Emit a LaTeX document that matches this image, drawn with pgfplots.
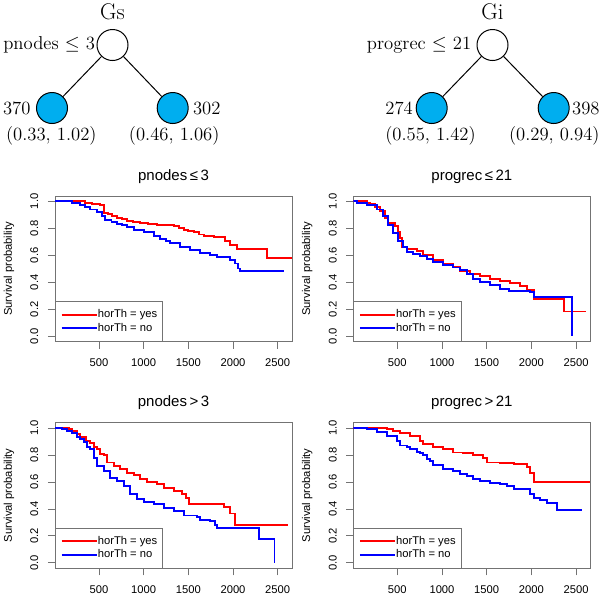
\documentclass[border=0pt]{standalone}
\usepackage{pgfplots}
\pgfplotsset{compat=1.18}
\usepackage{fontspec}
\newfontfamily\lsans{Liberation Sans}
\definecolor{leafblue}{RGB}{0,174,239}
\definecolor{kmred}{RGB}{255,0,0}
\definecolor{kmblue}{RGB}{0,0,255}

\newcommand\tickfont{\lsans\fontsize{8.4}{10}\selectfont}

\pgfplotsset{
  kmplot/.style={
    scale only axis, width=177.75pt, height=109.3pt,
    anchor=south west,
    xmin=8, xmax=2660, ymin=-0.04, ymax=1.04,
    xtick={500,1000,1500,2000,2500},
    ytick={0,0.2,0.4,0.6,0.8,1},
    scaled x ticks=false,
    tick pos=left, tick align=outside, major tick length=5.25pt,
    axis line style={black!55, line width=0.6pt},
    major tick style={black!55, line width=0.6pt},
    ticklabel style={font=\tickfont},
    /pgf/number format/assume math mode=true,
    xticklabel style={yshift=-4.2pt, /pgf/number format/1000 sep={}},
    yticklabel shift=3.75pt,
    yticklabel style={rotate=90, anchor=south,
      /pgf/number format/fixed, /pgf/number format/fixed zerofill,
      /pgf/number format/precision=1},
    ylabel={Survival probability},
    every axis y label/.style={at={(axis description cs:0,0.5)},
      xshift=-34.5pt, rotate=90, anchor=center, font=\tickfont},
    title style={font=\lsans\fontsize{11.25}{13}\selectfont,
      at={(0.5,1)}, anchor=center, yshift=8.7pt},
    legend style={at={(0,0)}, anchor=south west, draw=black!55,
      font=\tickfont, inner xsep=4pt, inner ysep=6.15pt,
      row sep=2.3pt, nodes={inner sep=0pt, text height=6pt, text depth=1.7pt}},
    legend cell align=left,
    legend image code/.code={\path (0pt,0pt) -- (26.5pt,0pt);
      \draw[##1] (3.5pt,0pt) -- (18.5pt,0pt);},
  },
  kmyes/.style={draw=kmred, line width=1.45pt, const plot, mark=none},
  kmno/.style={draw=kmblue, line width=1.45pt, const plot, mark=none},
}

\begin{document}
\begin{tikzpicture}
\path[use as bounding box] (0pt,0pt) rectangle (450pt,-445.5pt);

% ---- trees ----
\begin{scope}[x=0.75pt, y=-0.75pt, line width=0.75pt,
  nd/.style={circle, draw, minimum size=23.25pt, inner sep=0pt},
  lbl/.style={inner sep=0pt, font=\fontsize{14}{17}\selectfont}]
  \node[inner sep=0pt, font=\fontsize{17}{20}\selectfont] at (112.5,12) {Gs};
  \node[nd] (a) at (112.5,45) {};
  \node[nd, fill=leafblue] (b) at (52,108) {};
  \node[nd, fill=leafblue] (c) at (172.7,108) {};
  \draw (a) -- (b) (a) -- (c);
  \node[lbl, anchor=east] at (95.5,45) {pnodes $\leq$ 3};
  \node[lbl, anchor=east] at (31,108.5) {370};
  \node[lbl, anchor=west] at (192.5,108.5) {302};
  \node[lbl] at (51.3,136.2) {(0.33, 1.02)};
  \node[lbl] at (174.2,136.2) {(0.46, 1.06)};

  \node[inner sep=0pt, font=\fontsize{17}{20}\selectfont] at (492.4,12) {Gi};
  \node[nd] (d) at (492.5,45) {};
  \node[nd, fill=leafblue] (e) at (431.7,108) {};
  \node[nd, fill=leafblue] (f) at (553.7,108) {};
  \draw (d) -- (e) (d) -- (f);
  \node[lbl, anchor=east] at (471.7,45) {progrec $\leq$ 21};
  \node[lbl, anchor=east] at (413.3,108.5) {274};
  \node[lbl, anchor=west] at (571.7,108.5) {398};
  \node[lbl] at (430.5,136.2) {(0.55, 1.42)};
  \node[lbl] at (554.3,136.2) {(0.29, 0.94)};
\end{scope}

% ---- pnodes <= 3 ----
\begin{axis}[kmplot, at={(41.25pt,-256.3pt)}, title={pnodes\,≤\,3}]
\addplot[kmyes] coordinates {(8,1) (347,0.99) (422,0.98) (515,0.975) (552,0.913)
  (600,0.905) (650,0.895) (702,0.876) (760,0.868) (814,0.858) (880,0.848)
  (963,0.838) (1050,0.833) (1150,0.828) (1250,0.822) (1336,0.815) (1400,0.805)
  (1448,0.79) (1500,0.78) (1560,0.77) (1620,0.755) (1672,0.745) (1784,0.733)
  (1915,0.71) (1971,0.678) (2045,0.645) (2381,0.583) (2660,0.583)};
\addplot[kmno] coordinates {(8,1) (198,0.99) (250,0.985) (291,0.975) (340,0.96)
  (403,0.94) (478,0.92) (534,0.889) (571,0.86) (640,0.848) (702,0.835)
  (760,0.822) (814,0.81) (888,0.79) (1000,0.77) (1113,0.745) (1187,0.72)
  (1250,0.705) (1299,0.69) (1411,0.665) (1523,0.64) (1635,0.617) (1747,0.603)
  (1822,0.585) (1971,0.565) (2027,0.54) (2060,0.503) (2083,0.483) (2568,0.483)};
\legend{horTh = yes, horTh = no}
\end{axis}

% ---- progrec <= 21 ----
\begin{axis}[kmplot, at={(265pt,-256.3pt)}, title={progrec\,≤\,21}]
\addplot[kmyes] coordinates {(8,1) (157,0.99) (194,0.983) (250,0.96) (306,0.926)
  (362,0.876) (400,0.843) (474,0.818) (512,0.776) (530,0.726) (549,0.664)
  (605,0.645) (717,0.632) (792,0.603) (904,0.565) (1016,0.536) (1128,0.515)
  (1203,0.485) (1315,0.465) (1427,0.445) (1539,0.428) (1651,0.41) (1764,0.395)
  (1876,0.37) (1951,0.34) (2025,0.28) (2361,0.184) (2616,0.184)};
\addplot[kmno] coordinates {(8,1) (44,0.99) (157,0.975) (269,0.94) (343,0.89)
  (400,0.828) (456,0.765) (512,0.71) (568,0.664) (605,0.627) (680,0.61)
  (754,0.595) (829,0.57) (904,0.552) (1016,0.527) (1128,0.51) (1203,0.49)
  (1278,0.46) (1352,0.428) (1427,0.403) (1539,0.378) (1651,0.353) (1745,0.336)
  (1988,0.328) (2025,0.29) (2455,0)};
\legend{horTh = yes, horTh = no}
\end{axis}

% ---- pnodes > 3 ----
\begin{axis}[kmplot, at={(41.25pt,-426.2pt)}, title={pnodes\,>\,3}]
\addplot[kmyes] coordinates {(8,1) (160,0.99) (198,0.975) (250,0.955) (291,0.93)
  (350,0.905) (403,0.885) (440,0.86) (478,0.845) (515,0.81) (552,0.8)
  (590,0.744) (664,0.719) (739,0.699) (814,0.669) (888,0.649) (963,0.619)
  (1038,0.599) (1150,0.582) (1224,0.557) (1336,0.532) (1430,0.508) (1470,0.483)
  (1504,0.433) (1896,0.415) (1971,0.366) (2027,0.284) (2613,0.284)};
\addplot[kmno] coordinates {(8,1) (86,0.99) (142,0.98) (200,0.96) (254,0.93)
  (290,0.915) (328,0.893) (366,0.86) (403,0.843) (440,0.78) (478,0.719)
  (552,0.682) (627,0.632) (702,0.607) (776,0.57) (851,0.508) (926,0.476)
  (1000,0.45) (1113,0.433) (1224,0.408) (1336,0.383) (1448,0.351) (1598,0.341)
  (1635,0.321) (1747,0.309) (1800,0.284) (1822,0.259) (2288,0.177) (2464,0)};
\legend{horTh = yes, horTh = no}
\end{axis}

% ---- progrec > 21 ----
\begin{axis}[kmplot, at={(265pt,-426.2pt)}, title={progrec\,>\,21}]
\addplot[kmyes] coordinates {(8,1) (119,0.998) (381,0.99) (456,0.98) (530,0.965)
  (642,0.94) (754,0.905) (792,0.88) (904,0.856) (1016,0.843) (1128,0.818)
  (1240,0.813) (1352,0.798) (1464,0.78) (1502,0.744) (1651,0.739) (1801,0.731)
  (1951,0.714) (1988,0.669) (2025,0.602) (2660,0.602)};
\addplot[kmno] coordinates {(8,1) (44,0.998) (157,0.993) (269,0.968) (381,0.938)
  (493,0.905) (530,0.87) (605,0.856) (642,0.843) (717,0.823) (754,0.813)
  (792,0.8) (829,0.77) (866,0.756) (904,0.724) (1016,0.694) (1128,0.682)
  (1203,0.657) (1278,0.644) (1352,0.624) (1427,0.607) (1539,0.594) (1651,0.582)
  (1726,0.57) (1801,0.545) (1988,0.508) (2025,0.483) (2100,0.465) (2180,0.445)
  (2287,0.391) (2567,0.391)};
\legend{horTh = yes, horTh = no}
\end{axis}
\end{tikzpicture}
\end{document}
